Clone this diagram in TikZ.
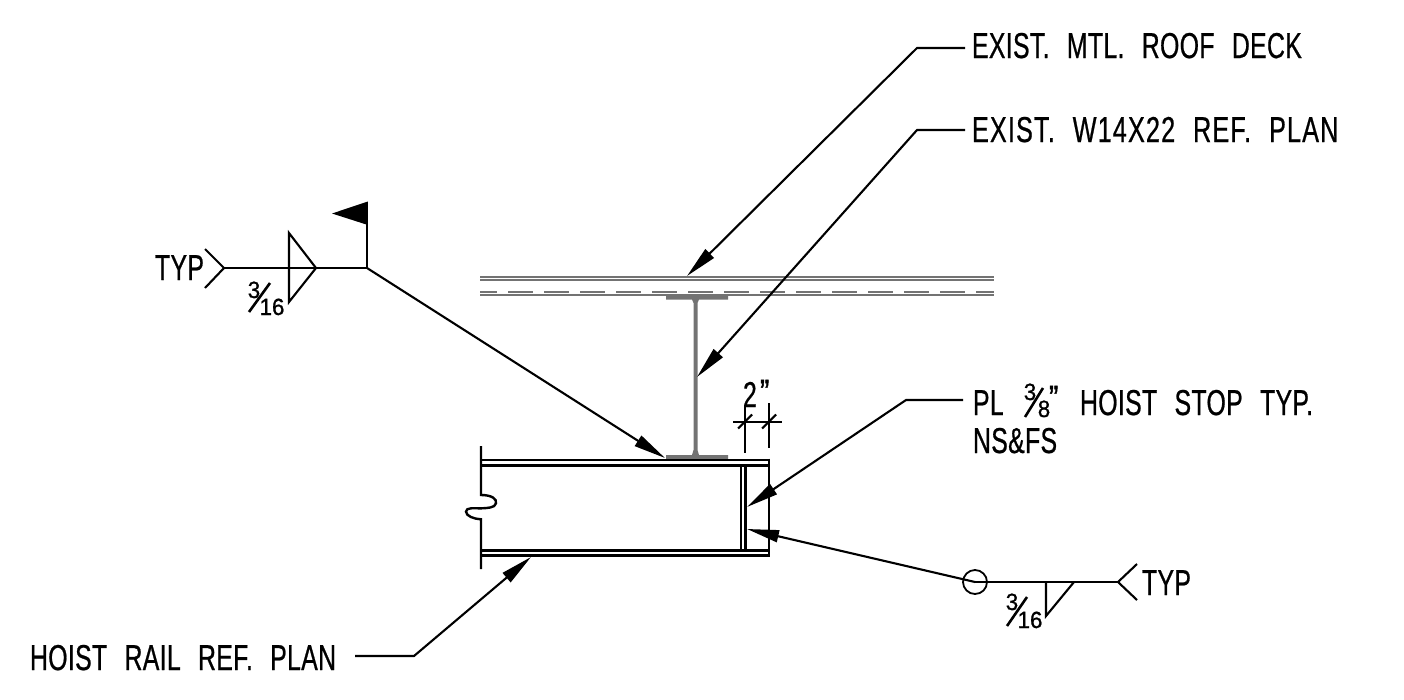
\documentclass[tikz,border=0pt]{standalone}
\usepackage{fontspec}
\setmainfont{Liberation Sans}[FakeStretch=0.69,WordSpace=2.4,LetterSpace=0.9,FakeBold=0.6]
\newfontfamily\widefont{Liberation Sans}[FakeStretch=0.70,WordSpace=2.2,LetterSpace=3.2,FakeBold=0.6]
\newfontfamily\fracfont{Liberation Sans}[FakeStretch=0.95,FakeBold=0.9]
\newfontfamily\quotefont{Liberation Sans}[FakeStretch=0.8,FakeBold=1.2]
\usetikzlibrary{arrows.meta}
\tikzset{
  x=1pt,y=-1pt,
  lbl/.style={anchor=base west,inner sep=0pt,outer sep=0pt,font=\fontsize{36}{36}\selectfont,text=black},
  widelbl/.style={lbl,font=\widefont\fontsize{36}{36}\selectfont},
  small/.style={anchor=base,inner sep=0pt,outer sep=0pt,font=\fracfont\fontsize{23.5}{23.5}\selectfont,text=black},
  qmark/.style={anchor=base west,inner sep=0pt,outer sep=0pt,font=\quotefont\fontsize{35}{35}\selectfont,text=black},
  leader/.style={line width=2.1pt,black,-{Triangle[length=32pt,width=12pt]}},
  plain/.style={line width=2.1pt,black},
  rail/.style={line width=2.9pt,black},
  deck/.style={line width=1.6pt,black!55},
  steel/.style={fill=black!55,draw=none},
}
\begin{document}
\begin{tikzpicture}
\useasboundingbox (0,0) rectangle (1404,699);
% labels
\node[lbl] (deckl) at (972,58) {EXIST. MTL. ROOF DECK};
\node[widelbl] (beaml) at (972,142) {EXIST. W14X22 REF. PLAN};
\node[lbl] (pl) at (973,415) {PL};
\node[small] (pln) at (1030,400) {3};
\node[small] (pld) at (1044,417) {8};
\node[qmark] (plq) at (1049,410) {”};
\node[lbl] (plr) at (1080,415) {HOIST STOP TYP.};
\node[lbl] (ns) at (973,453) {NS\&FS};
\node[lbl] (hoist) at (30,670) {HOIST RAIL REF. PLAN};
\node[lbl] (typa) at (155,280) {TYP};
\node[lbl] (typb) at (1142,595) {TYP};
\node[small] (na) at (254,298) {3};
\node[small] (da) at (272,315) {16};
\node[small] (nb) at (1012,610) {3};
\node[small] (db) at (1030,628) {16};
\node[lbl] (two) at (743,407) {2};
\node[qmark] (twoq) at (760,404) {”};
% deck
\coordinate (dl1) at (480,276.7); \coordinate (dr1) at (994,276.7);
\coordinate (dl2) at (480,279.8); \coordinate (dr2) at (994,279.8);
\coordinate (dl3) at (480,292);   \coordinate (dr3) at (994,292);
\coordinate (dl4) at (480,295);   \coordinate (dr4) at (994,295);
\draw[deck] (dl1) -- (dr1);
\draw[deck] (dl2) -- (dr2);
\draw[deck,dash pattern=on 17pt off 11pt on 25pt off 11pt on 25pt off 11pt on 25pt off 11pt on 25pt off 11pt on 25pt off 11pt on 25pt off 11pt on 25pt off 11pt on 25pt off 11pt on 25pt off 11pt on 25pt off 11pt on 25pt off 11pt on 25pt off 11pt on 25pt off 11pt on 25pt off 11pt] (dl3) -- (dr3);
\draw[deck] (dl4) -- (dr4);
% I-beam
\fill[steel] (666,295.5) -- (728,295.5) -- (728,299.5) -- (699,299.5) -- (697.5,303) -- (697.5,450) -- (699,455) -- (728,455) -- (728,459) -- (666,459) -- (666,455) -- (692,455) -- (693.5,450) -- (693.5,303) -- (692,299.5) -- (666,299.5) -- cycle;
% hoist rail
\coordinate (rtl) at (481,446); \coordinate (rbl) at (481,569);
\draw[rail,line width=2.4pt] (rtl) -- (481,495) .. controls (492,495) and (497,499) .. (496,503.3) .. controls (495,508) and (487,508) .. (481.7,508.3) .. controls (474,508.5) and (466,507) .. (466,511.7) .. controls (466,516) and (474,519) .. (481,519.3) -- (rbl);
\draw[rail] (481,460) -- (769,460);
\draw[rail] (481,465.5) -- (769,465.5);
\draw[rail] (481,550.5) -- (769,550.5);
\draw[rail] (481,555.5) -- (769,555.5);
\draw[rail] (769,458.6) -- (769,556.9);
\draw[rail] (741,465.5) -- (741,550.5);
\draw[rail] (745.7,465.5) -- (745.7,550.5);
% dimension
\draw[plain] (745,405) -- (745,453);
\draw[plain] (769,403) -- (769,448);
\draw[plain] (733,422) -- (782,422);
\draw[plain] (738,428.5) -- (752,414.5);
\draw[plain] (762,428.5) -- (776,414.5);
% leaders
\coordinate (b1) at (917,48);
\coordinate (e1) at (965,48);
\coordinate (t1) at (687,276);
\draw[leader] (e1) -- (b1) -- (t1);
\coordinate (b2) at (917,130);
\coordinate (e2) at (965,130);
\coordinate (t2) at (697,377);
\draw[leader] (e2) -- (b2) -- (t2);
\coordinate (b3) at (906,400);
\coordinate (e3) at (963,400);
\coordinate (t3) at (747,507);
\draw[leader] (e3) -- (b3) -- (t3);
\coordinate (b4) at (414,656);
\coordinate (e4) at (355,656);
\coordinate (t4) at (531,557);
\draw[leader] (e4) -- (b4) -- (t4);
% weld A
\coordinate (wa0) at (224,268);
\coordinate (wa1) at (367,268);
\coordinate (wat) at (665,458);
\draw[plain] (205,249) -- (wa0) -- (205,288);
\draw[plain] (wa0) -- (wa1);
\draw[plain,line join=miter] (289,233) -- (316,268) -- (289,302) -- cycle;
\draw[plain] (wa1) -- (367,203);
\fill[black] (367.9,201.5) -- (332,213.5) -- (367.9,225) -- cycle;
\draw[leader] (wa1) -- (wat);
\draw[plain,line width=2.6pt] (249,312) -- (270,283);
% weld B
\coordinate (wb0) at (975,582);
\coordinate (wb1) at (1118,582);
\coordinate (wbt) at (747,529);
\node[circle,draw=black,line width=1.8pt,minimum size=24pt,inner sep=0pt] (wbc) at (wb0) {};
\draw[plain] (wb0) -- (wb1);
\draw[plain] (1137,564) -- (wb1) -- (1137,600);
\draw[plain] (1046,582) -- (1046,616) -- (1074,582);
\draw[leader] (wb0) -- (wbt);
\draw[plain,line width=2.6pt] (1007,626) -- (1027,597);
% 3/8 slash
\draw[plain,line width=2.6pt] (1025,417) -- (1043,388);
\end{tikzpicture}
\end{document}
